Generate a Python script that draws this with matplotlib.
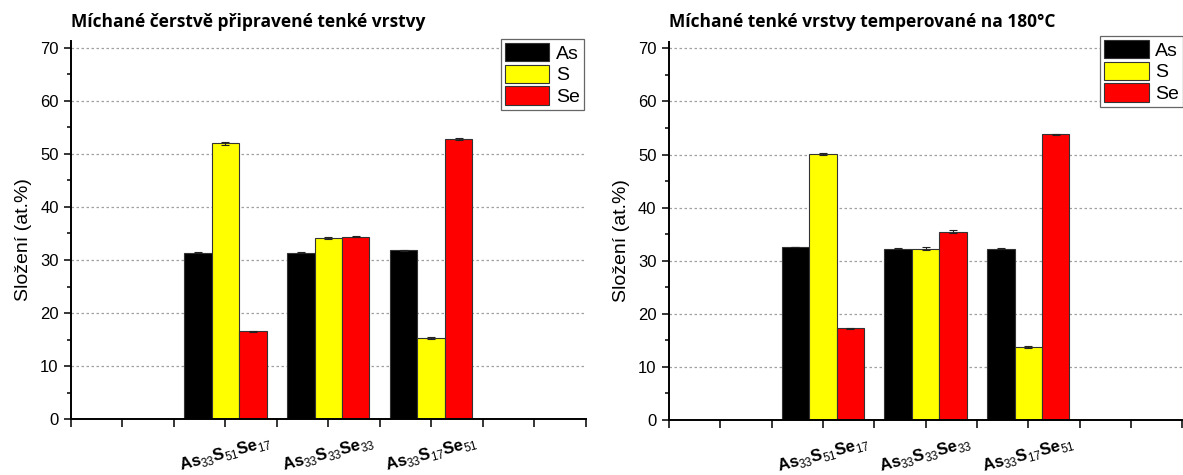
import matplotlib
matplotlib.use("Agg")
import matplotlib.pyplot as plt
import numpy as np

plt.rcParams["font.family"] = ["Liberation Sans", "DejaVu Sans"]
plt.rcParams["mathtext.fontset"] = "custom"
plt.rcParams["mathtext.rm"] = "Liberation Sans"
plt.rcParams["mathtext.bf"] = "Liberation Sans:bold"

# compositions
compositions = [
    r"$\mathbf{As}_{\mathrm{33}}\mathbf{S}_{\mathrm{51}}\mathbf{Se}_{\mathrm{17}}$",
    r"$\mathbf{As}_{\mathrm{33}}\mathbf{S}_{\mathrm{33}}\mathbf{Se}_{\mathrm{33}}$",
    r"$\mathbf{As}_{\mathrm{33}}\mathbf{S}_{\mathrm{17}}\mathbf{Se}_{\mathrm{51}}$",
]
elements = ["As", "S", "Se"]

# fresh films (at.%)
fresh_as = [31.4, 31.4, 31.8]
fresh_s = [52.0, 34.2, 15.3]
fresh_se = [16.6, 34.4, 52.8]
fresh_as_err = [0.10, 0.10, 0.10]
fresh_s_err = [0.30, 0.20, 0.20]
fresh_se_err = [0.10, 0.10, 0.15]

# films annealed at 180 C (at.%)
annealed_as = [32.6, 32.3, 32.3]
annealed_s = [50.1, 32.3, 13.8]
annealed_se = [17.3, 35.5, 53.8]
annealed_as_err = [0.05, 0.05, 0.05]
annealed_s_err = [0.20, 0.20, 0.20]
annealed_se_err = [0.10, 0.20, 0.10]

colors = ["#000000", "#ffff00", "#ff0000"]


def draw_panel(ax, values, errors, title, legend_anchor, legend_loc):
    x = np.arange(1, len(compositions) + 1)
    w = 0.8 / 3
    for i, (vals, errs) in enumerate(zip(values, errors)):
        ax.bar(x + (i - 1) * w, vals, w, color=colors[i], edgecolor="#333333",
               linewidth=0.8, label=elements[i], zorder=2)
        ax.errorbar(x + (i - 1) * w, vals, yerr=errs, fmt="none", ecolor="#222222",
                    elinewidth=0.8, capsize=3, capthick=0.8, zorder=3)

    ax.set_xlim(-0.5, 4.5)
    ax.set_ylim(0, 71.2)
    ticks = np.arange(-0.5, 4.51, 0.5)
    labels = [compositions[int(t) - 1] if t in (1, 2, 3) else "" for t in ticks]
    ax.set_xticks(ticks)
    ax.set_xticklabels(labels, rotation=15, ha="center", fontsize=12.5)
    ax.set_yticks(np.arange(0, 71, 10))
    ax.set_yticks(np.arange(5, 70, 10), minor=True)
    ax.tick_params(axis="both", which="major", direction="out", length=5.4,
                   width=1.1, labelsize=12, pad=3.5)
    ax.tick_params(axis="y", which="minor", direction="out", length=3, width=1.1)
    ax.tick_params(axis="x", which="major", pad=4)

    ax.spines["top"].set_visible(False)
    ax.spines["right"].set_visible(False)
    ax.spines["left"].set_linewidth(1.4)
    ax.spines["bottom"].set_linewidth(1.4)

    ax.set_axisbelow(True)
    ax.yaxis.grid(True, linestyle=(0, (2, 2)), color="#a0a0a0", linewidth=0.9)

    ax.set_ylabel("Složení (at.%)", fontsize=14)
    ax.yaxis.set_label_coords(-0.076, 0.475)

    ax.text(ax.get_position().x0, 1.0 - 27 / 475, title, transform=ax.figure.transFigure,
            fontsize=12.5, fontweight="bold", family=["Open Sans", "DejaVu Sans"],
            va="baseline", ha="left")

    leg = ax.legend(loc=legend_loc, bbox_to_anchor=legend_anchor,
                    bbox_transform=ax.figure.transFigure, fontsize=14,
                    frameon=True, fancybox=False, framealpha=1, edgecolor="#666666",
                    handlelength=2.3, handleheight=1.08, labelspacing=0.1,
                    borderpad=0.2, handletextpad=0.35, borderaxespad=0)
    leg.get_frame().set_linewidth(0.9)
    return leg


fig = plt.figure(figsize=(11.83, 4.75), dpi=100)
ax1 = fig.add_axes([71 / 1183, 55.7 / 475, 514.5 / 1183, 378 / 475])
ax2 = fig.add_axes([668.8 / 1183, 55.0 / 475, 513.5 / 1183, 378 / 475])

draw_panel(ax1, [fresh_as, fresh_s, fresh_se], [fresh_as_err, fresh_s_err, fresh_se_err],
           "Míchané čerstvě připravené tenké vrstvy", (584 / 1183, 1 - 39 / 475), "upper right")
draw_panel(ax2, [annealed_as, annealed_s, annealed_se],
           [annealed_as_err, annealed_s_err, annealed_se_err],
           "Míchané tenké vrstvy temperované na 180°C", (1100 / 1183, 1 - 36 / 475), "upper left")

fig.savefig("out.png", dpi=100)
